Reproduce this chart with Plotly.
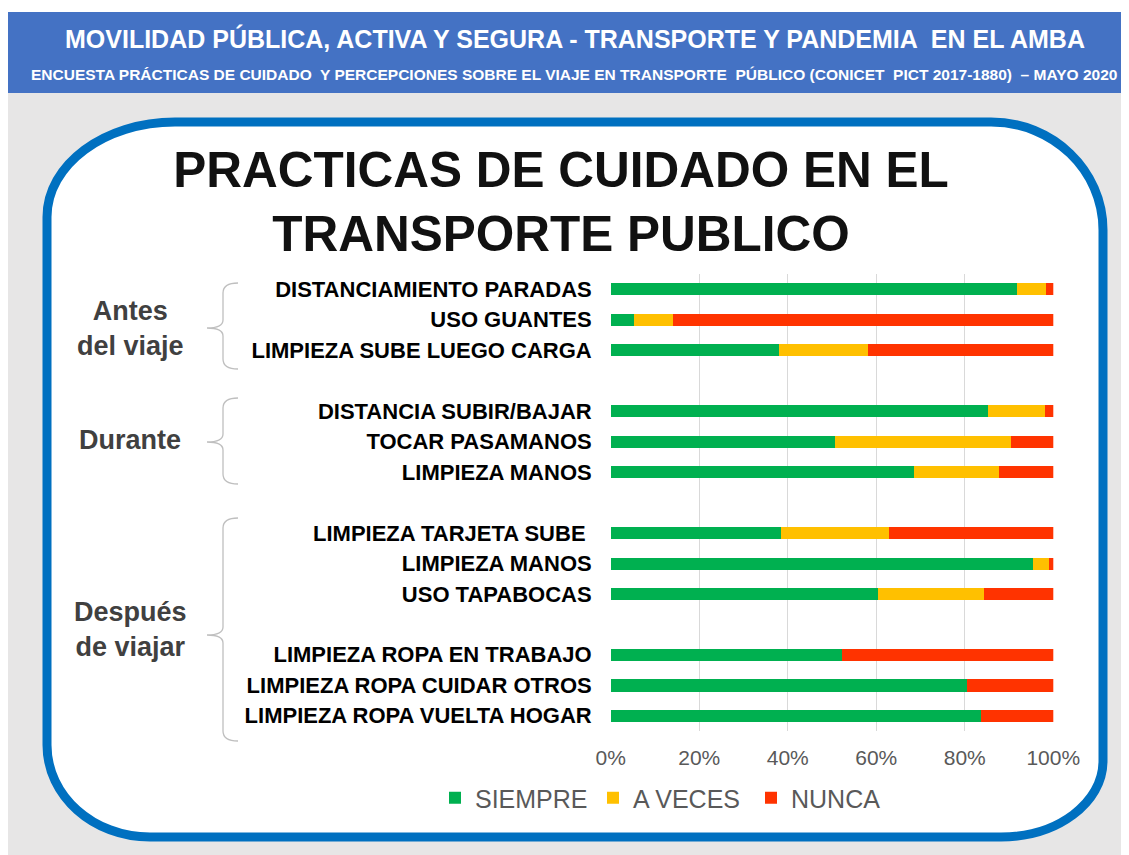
import plotly.graph_objects as go

# ---------------- data ----------------
labels = [
    "DISTANCIAMIENTO PARADAS", "USO GUANTES", "LIMPIEZA SUBE LUEGO CARGA",
    "DISTANCIA SUBIR/BAJAR", "TOCAR PASAMANOS", "LIMPIEZA MANOS",
    "LIMPIEZA TARJETA SUBE\u00a0", "LIMPIEZA MANOS", "USO TAPABOCAS",
    "LIMPIEZA ROPA EN TRABAJO", "LIMPIEZA ROPA CUIDAR OTROS", "LIMPIEZA ROPA VUELTA HOGAR",
]
row_pos = [0, 1, 2, 4, 5, 6, 8, 9, 10, 12, 13, 14]   # rows, with a blank slot between groups
siempre = [91.7, 5.1, 38.0, 85.1, 50.6, 68.4, 38.5, 95.4, 60.4, 52.3, 80.5, 83.7]
a_veces = [6.6, 8.8, 20.1, 13.0, 39.8, 19.3, 24.3, 3.5, 23.8, 0.0, 0.0, 0.0]
nunca = [1.7, 86.1, 41.9, 1.9, 9.6, 12.3, 37.2, 1.1, 15.8, 47.7, 19.5, 16.3]
series_names = ["SIEMPRE", "A VECES", "NUNCA"]
x_ticks = [0, 20, 40, 60, 80, 100]
x_ticktext = ["0%", "20%", "40%", "60%", "80%", "100%"]
groups = ["Antes<br>del viaje", "Durante", "Después<br>de viajar"]

header1 = "MOVILIDAD PÚBLICA, ACTIVA Y SEGURA - TRANSPORTE Y PANDEMIA  EN EL AMBA"
header2 = ("ENCUESTA PRÁCTICAS DE CUIDADO  Y PERCEPCIONES SOBRE EL VIAJE EN TRANSPORTE  "
           "PÚBLICO (CONICET  PICT 2017-1880)  – MAYO 2020")
title = "PRACTICAS DE CUIDADO EN EL<br>TRANSPORTE PUBLICO"

# ---------------- style ----------------
W, H = 1129, 855
OFF = 8  # page body margin
colors = ["#00B050", "#FFC000", "#FF3300"]
FONT = "Liberation Sans, Arial, sans-serif"


def px(x):
    return (x - OFF) / W


def py(y):
    return 1 - (y - OFF) / H


fig = go.Figure()
for name, vals, col in zip(series_names, [siempre, a_veces, nunca], colors):
    fig.add_trace(go.Bar(
        y=row_pos, x=vals, name=name, orientation="h",
        marker=dict(color=col, line=dict(width=0)), width=0.4,
    ))

# ---------------- decoration shapes ----------------
shapes = []
shapes.append(dict(type="rect", xref="paper", yref="paper", x0=0, x1=1, y0=0, y1=py(93),
                   fillcolor="#E7E6E6", line=dict(width=0), layer="below"))
shapes.append(dict(type="rect", xref="paper", yref="paper", x0=0, x1=1, y0=py(93), y1=py(12),
                   fillcolor="#4472C4", line=dict(width=0), layer="below"))


def rounded_panel(l, t, r, b, tl, tr, br, bl):
    k = 0.5523
    pts = []
    pts.append(f"M{px(l + tl[0])},{py(t)}")
    pts.append(f"L{px(r - tr[0])},{py(t)}")
    pts.append(f"C{px(r - tr[0] + k * tr[0])},{py(t)} {px(r)},{py(t + tr[1] - k * tr[1])} {px(r)},{py(t + tr[1])}")
    pts.append(f"L{px(r)},{py(b - br[1])}")
    pts.append(f"C{px(r)},{py(b - br[1] + k * br[1])} {px(r - br[0] + k * br[0])},{py(b)} {px(r - br[0])},{py(b)}")
    pts.append(f"L{px(l + bl[0])},{py(b)}")
    pts.append(f"C{px(l + bl[0] - k * bl[0])},{py(b)} {px(l)},{py(b - bl[1] + k * bl[1])} {px(l)},{py(b - bl[1])}")
    pts.append(f"L{px(l)},{py(t + tl[1])}")
    pts.append(f"C{px(l)},{py(t + tl[1] - k * tl[1])} {px(l + tl[0] - k * tl[0])},{py(t)} {px(l + tl[0])},{py(t)}")
    pts.append("Z")
    return " ".join(pts)


shapes.append(dict(type="path", xref="paper", yref="paper",
                   path=rounded_panel(47, 122, 1103, 837, (128, 95), (112, 108), (102, 76), (103, 92)),
                   fillcolor="white", line=dict(color="#0070C0", width=9), layer="below"))


def brace(top, tip, bottom, xr=238, xm=223, xt=207):
    return (f"M{px(xr)},{py(top)} Q{px(xm)},{py(top)} {px(xm)},{py(top + 10)} "
            f"L{px(xm)},{py(tip - 8)} Q{px(xm)},{py(tip)} {px(xt)},{py(tip)} "
            f"Q{px(xm)},{py(tip)} {px(xm)},{py(tip + 8)} "
            f"L{px(xm)},{py(bottom - 10)} Q{px(xm)},{py(bottom)} {px(xr)},{py(bottom)}")


for top, tip, bottom in [(283, 328, 369), (398, 442, 484), (518, 635, 741)]:
    shapes.append(dict(type="path", xref="paper", yref="paper", path=brace(top, tip, bottom),
                       line=dict(color="#BFBFBF", width=1.3)))

# ---------------- annotations ----------------
annotations = [
    dict(text=f"<b>{header1}</b>", x=px(575), y=py(38), xref="paper", yref="paper",
         xanchor="center", yanchor="middle",
         showarrow=False, font=dict(family=FONT, size=25, color="white")),
    dict(text=f"<b>{header2}</b>", x=px(574), y=py(74), xref="paper", yref="paper",
         xanchor="center", yanchor="middle",
         showarrow=False, font=dict(family=FONT, size=15.5, color="white")),
]
for g, yc in zip(groups, [328, 440, 629]):
    annotations.append(dict(text=f"<b>{g}</b>", x=px(130), y=py(yc), xref="paper", yref="paper",
                            xanchor="center", yanchor="middle",
                            showarrow=False, align="center",
                            font=dict(family=FONT, size=27, color="#404040")))

fig.update_layout(
    width=W, height=H,
    margin=dict(l=0, r=0, t=0, b=0),
    paper_bgcolor="white", plot_bgcolor="rgba(0,0,0,0)",
    barmode="stack", bargap=0,
    font=dict(family=FONT),
    title=dict(text=f"<b>{title}</b>", x=px(561), y=py(187), xanchor="center", yanchor="middle",
               xref="paper", yref="paper",
               font=dict(family=FONT, size=49.5, color="#111111")),
    xaxis=dict(domain=[px(610.7), px(1053.3)], range=[0, 100], tickvals=x_ticks, ticktext=x_ticktext,
               showgrid=True, gridcolor="#D9D9D9", gridwidth=1, zeroline=False, showline=False,
               tickfont=dict(family=FONT, size=21, color="#595959"), ticklabelstandoff=12,
               automargin=False, fixedrange=True),
    yaxis=dict(domain=[py(731), py(273.75)], range=[14.5, -0.5], tickvals=row_pos, ticktext=labels,
               showgrid=False, zeroline=False, showline=False,
               tickfont=dict(family=FONT, size=22, color="black", weight="bold"),
               ticklabelstandoff=18, automargin=False, fixedrange=True),
    legend=dict(orientation="h", x=px(435), y=py(798), xanchor="left", yanchor="middle",
                font=dict(family=FONT, size=25, color="#595959"), entrywidth=113,
                entrywidthmode="pixels", traceorder="normal", bgcolor="rgba(0,0,0,0)"),
    shapes=shapes,
    annotations=annotations,
)

fig.write_html("out.html")
